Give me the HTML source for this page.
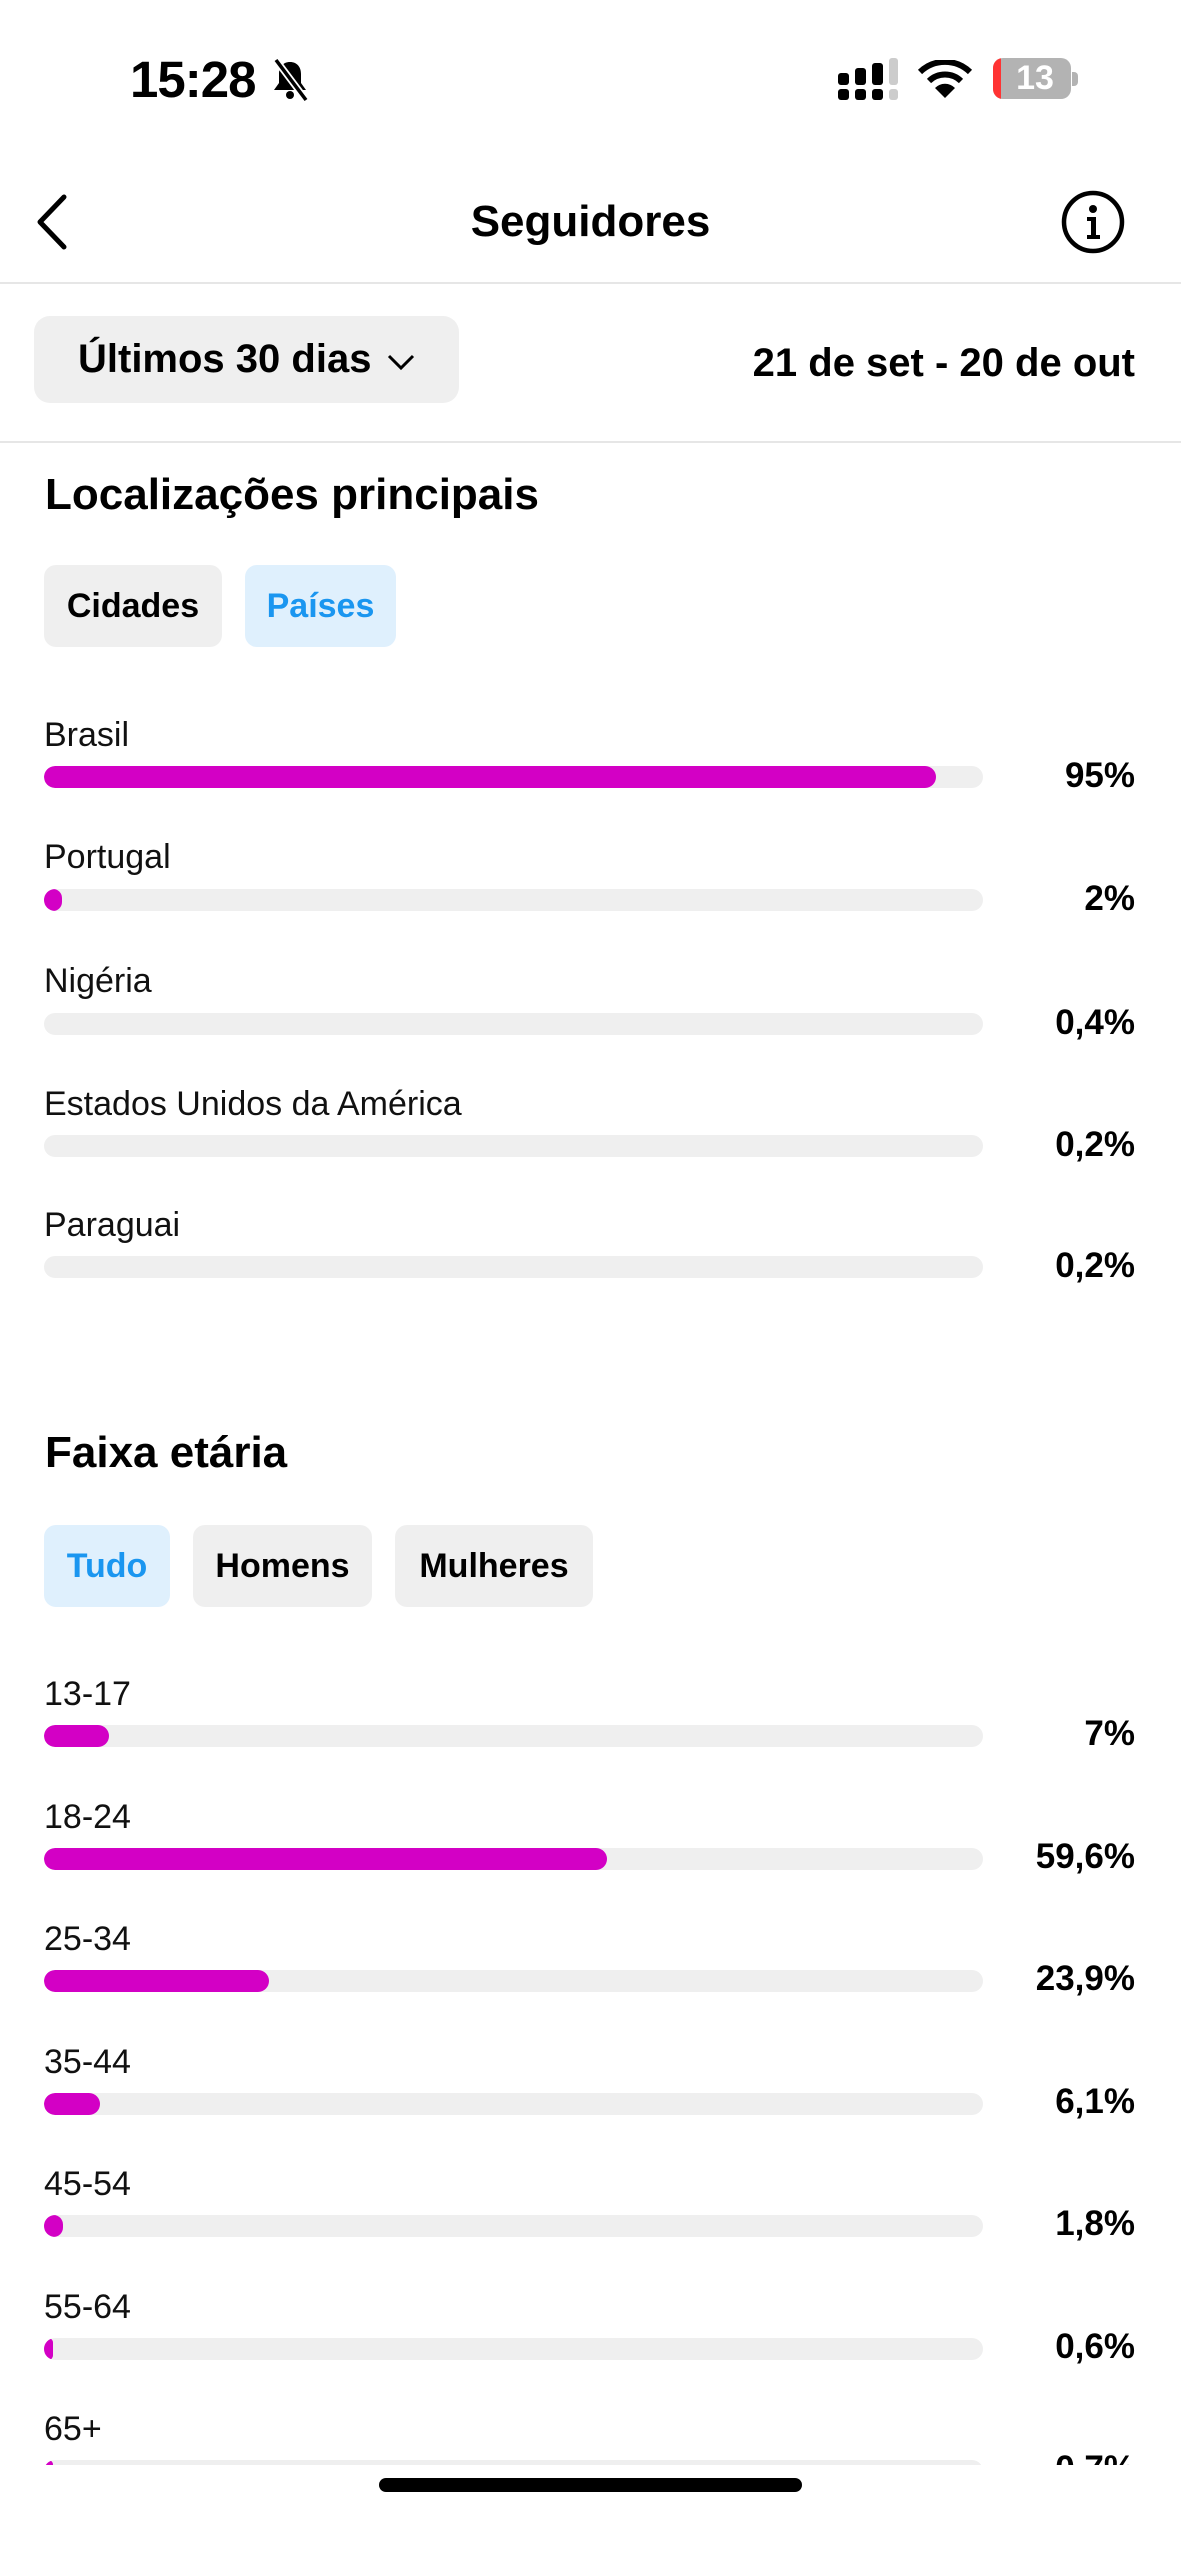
<!DOCTYPE html>
<html><head><meta charset="utf-8"><style>
*{margin:0;padding:0;box-sizing:border-box}
body{width:1181px;height:2560px;background:#fff;position:relative;overflow:hidden;font-family:"Liberation Sans",sans-serif;color:#000}
.a{position:absolute}
.lbl{position:absolute;left:44px;font-size:34px;line-height:38px;color:#111}
.trk{position:absolute;left:44px;width:939px;height:22px;border-radius:11px;background:#efefef;overflow:hidden}
.fill{height:22px;border-radius:11px;background:#d300c5}
.pct{position:absolute;right:46px;font-size:35px;font-weight:bold;line-height:38px;text-align:right}
.chip{position:absolute;height:82px;border-radius:12px;background:#efefef;font-weight:bold;font-size:34px;line-height:82px;text-align:center}
.sel{background:#dff0fd;color:#1a96f0}
h2{position:absolute;left:45px;font-size:44px;font-weight:bold;line-height:50px}
.hr{position:absolute;left:0;width:1181px;height:2px;background:#e6e6e6}
</style></head><body>
<div class="a" style="left:130px;top:52px;font-size:51px;font-weight:bold;line-height:56px;letter-spacing:-1px">15:28</div>
<svg class="a" style="left:270px;top:58px" width="40" height="44" viewBox="0 0 40 44"><path d="M20 4c-7 0-11 5-11 12v9l-5 7h32l-5-7v-9c0-7-4-12-11-12z" fill="#000"/><circle cx="20" cy="37" r="4" fill="#000"/><line x1="6" y1="2" x2="36" y2="42" stroke="#fff" stroke-width="7"/><line x1="6" y1="2" x2="36" y2="42" stroke="#000" stroke-width="3.5"/></svg>
<svg class="a" style="left:838px;top:58px" width="60" height="42"><rect x="0" y="15" width="11" height="12" rx="3"/><rect x="17" y="10" width="11" height="17" rx="3"/><rect x="34" y="5" width="11" height="22" rx="3"/><rect x="51" y="0" width="9" height="27" rx="3" fill="#ccc"/><rect x="0" y="31" width="11" height="11" rx="3"/><rect x="17" y="31" width="11" height="11" rx="3"/><rect x="34" y="31" width="11" height="11" rx="3"/><rect x="51" y="31" width="9" height="11" rx="3" fill="#ccc"/></svg>
<svg class="a" style="left:918px;top:60px" width="54" height="38" viewBox="0 0 54 38"><path d="M2 12a36 36 0 0 1 50 0" stroke="#000" stroke-width="6" fill="none"/><path d="M11 21a23 23 0 0 1 32 0" stroke="#000" stroke-width="6" fill="none"/><path d="M17 28l10 10 10-10a14 14 0 0 0-20 0z" fill="#000"/></svg>
<div class="a" style="left:993px;top:58px;width:78px;height:41px;border-radius:10px;background:#b3b3b3;overflow:hidden"><div style="width:8px;height:41px;background:#f33"></div></div>
<div class="a" style="left:1072px;top:72px;width:6px;height:14px;border-radius:0 4px 4px 0;background:#b3b3b3"></div>
<div class="a" style="left:1000px;top:58px;width:70px;height:41px;color:#fff;font-weight:bold;font-size:34px;line-height:41px;text-align:center">13</div>
<svg class="a" style="left:34px;top:194px" width="36" height="56"><polyline points="30,3 6,28 30,53" fill="none" stroke="#000" stroke-width="5" stroke-linecap="round" stroke-linejoin="round"/></svg>
<div class="a" style="left:0;width:1181px;top:197px;text-align:center;font-size:44px;font-weight:bold;line-height:50px">Seguidores</div>
<svg class="a" style="left:1060px;top:189px" width="66" height="66"><circle cx="33" cy="33" r="29" fill="none" stroke="#000" stroke-width="4.5"/><circle cx="33" cy="20" r="4"/><path d="M27 28h9v18h4v4H27v-4h4V32h-4z"/></svg>
<div class="hr" style="top:282px"></div>
<div class="a" style="left:34px;top:316px;width:425px;height:87px;border-radius:16px;background:#efefef"></div>
<div class="a" style="left:78px;top:336px;font-size:40px;font-weight:bold;line-height:46px">Últimos 30 dias</div>
<svg class="a" style="left:386px;top:352px" width="30" height="20"><polyline points="3,4 15,16 27,4" fill="none" stroke="#000" stroke-width="3"/></svg>
<div class="a" style="right:46px;top:340px;font-size:40px;font-weight:bold;line-height:46px">21 de set - 20 de out</div>
<div class="hr" style="top:441px"></div>
<h2 style="top:470px">Localizações principais</h2>
<div class="chip" style="left:44px;top:565px;width:178px">Cidades</div>
<div class="chip sel" style="left:245px;top:565px;width:151px">Países</div>

<div class="lbl" style="top:716px">Brasil</div><div class="trk" style="top:766px"><div class="fill" style="width:892px"></div></div><div class="pct" style="top:757px">95%</div>
<div class="lbl" style="top:838px">Portugal</div><div class="trk" style="top:889px"><div class="fill" style="width:18px"></div></div><div class="pct" style="top:880px">2%</div>
<div class="lbl" style="top:962px">Nigéria</div><div class="trk" style="top:1013px"></div><div class="pct" style="top:1004px">0,4%</div>
<div class="lbl" style="top:1085px">Estados Unidos da América</div><div class="trk" style="top:1135px"></div><div class="pct" style="top:1126px">0,2%</div>
<div class="lbl" style="top:1206px">Paraguai</div><div class="trk" style="top:1256px"></div><div class="pct" style="top:1247px">0,2%</div>

<h2 style="top:1428px">Faixa etária</h2>
<div class="chip sel" style="left:44px;top:1525px;width:126px">Tudo</div>
<div class="chip" style="left:193px;top:1525px;width:179px">Homens</div>
<div class="chip" style="left:395px;top:1525px;width:198px">Mulheres</div>

<div class="lbl" style="top:1675px">13-17</div><div class="trk" style="top:1725px"><div class="fill" style="width:65px"></div></div><div class="pct" style="top:1715px">7%</div>
<div class="lbl" style="top:1798px">18-24</div><div class="trk" style="top:1848px"><div class="fill" style="width:563px"></div></div><div class="pct" style="top:1838px">59,6%</div>
<div class="lbl" style="top:1920px">25-34</div><div class="trk" style="top:1970px"><div class="fill" style="width:225px"></div></div><div class="pct" style="top:1960px">23,9%</div>
<div class="lbl" style="top:2043px">35-44</div><div class="trk" style="top:2093px"><div class="fill" style="width:56px"></div></div><div class="pct" style="top:2083px">6,1%</div>
<div class="lbl" style="top:2165px">45-54</div><div class="trk" style="top:2215px"><div class="fill" style="width:19px"></div></div><div class="pct" style="top:2205px">1,8%</div>
<div class="lbl" style="top:2288px">55-64</div><div class="trk" style="top:2338px"><div class="fill" style="width:9px"></div></div><div class="pct" style="top:2328px">0,6%</div>
<div class="lbl" style="top:2410px">65+</div><div class="trk" style="top:2460px"><div class="fill" style="width:9px"></div></div><div class="pct" style="top:2450px">0,7%</div>
<div class="a" style="left:0;top:2465px;width:1181px;height:95px;background:#fff"></div>
<div class="a" style="left:379px;top:2478px;width:423px;height:14px;border-radius:7px;background:#000"></div>
</body></html>
